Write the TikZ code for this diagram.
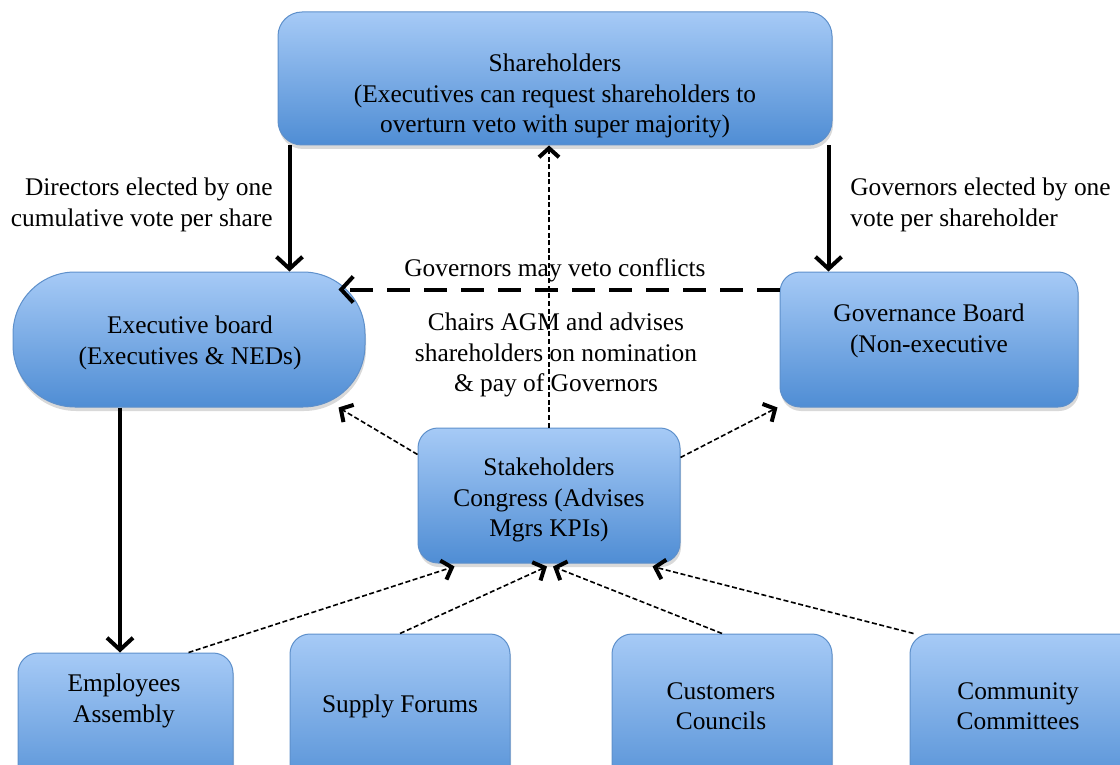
\documentclass[tikz,border=0pt]{standalone}
\usepackage{fontspec}
\setmainfont{Liberation Serif}
\usetikzlibrary{arrows.meta, shadows}
\definecolor{boxtop}{HTML}{A6CAF6}
\definecolor{boxbot}{HTML}{4F8DD4}
\definecolor{boxline}{HTML}{5E90CB}

\tikzset{
  board/.style={draw=boxline, line width=0.5pt, top color=boxtop, bottom color=boxbot,
    rounded corners=10pt, inner sep=0pt,
    drop shadow={opacity=0.3, shadow xshift=0.5pt, shadow yshift=-2pt}},
  boardtext/.style={align=center, font=\fontsize{12.7}{15.2}\selectfont, inner sep=0pt},
  vote/.style={line width=2pt, -{Straight Barb[length=6pt, width=13pt, line width=2pt]}},
  veto/.style={vote, dash pattern=on 11.5pt off 7pt},
  advise/.style={line width=0.8pt, dash pattern=on 2.5pt off 1.3pt,
    -{Straight Barb[length=4.5pt, width=10pt, line width=2pt]}},
}

\begin{document}
\begin{tikzpicture}[x=0.5pt, y=-0.5pt]
	\useasboundingbox (0,0) rectangle (1120,765);
	\clip (0,0) rectangle (1120,765);
	% boards
	\node[board, minimum width=277pt, minimum height=66.5pt, rounded corners=12pt] (share) at (555,78.5) {};
	\node[board, minimum width=176pt, minimum height=67.5pt, rounded corners=31pt] (exec) at (189,339.5) {};
	\node[board, minimum width=149pt, minimum height=67.5pt] (gov) at (929,339.5) {};
	\node[board, minimum width=131pt, minimum height=67.5pt] (stake) at (549,495.5) {};
	% bottom row, cut by the page edge
	\node[board, minimum width=107.5pt, minimum height=75pt] (emp) at (125.5,728) {};
	\node[board, minimum width=110pt, minimum height=83pt] (supply) at (400,717) {};
	\node[board, minimum width=110pt, minimum height=83pt] (cust) at (722,717) {};
	\node[board, minimum width=125pt, minimum height=83pt] (comm) at (1035,717) {};
	% texts in the boards
	\node[boardtext] (share-txt) at (555,96) {Shareholders\\(Executives can request shareholders to\\overturn veto with super majority)};
	\node[boardtext] (exec-txt) at (190,343) {Executive board\\(Executives \& NEDs)};
	\node[boardtext] (gov-txt) at (929,331) {Governance Board\\(Non-executive};
	\node[boardtext] (stake-txt) at (549,500) {Stakeholders\\Congress (Advises\\Mgrs KPIs)};
	\node[boardtext] (emp-txt) at (124,701) {Employees\\Assembly};
	\node[boardtext] (supply-txt) at (400,706) {Supply Forums};
	\node[boardtext] (cust-txt) at (721,706) {Customers\\Councils};
	\node[boardtext] (comm-txt) at (1018,706) {Community\\Committees};
	% labels
	\node[boardtext, align=right, anchor=east] (dir-lbl) at (273,205) {Directors elected by one\\cumulative vote per share};
	\node[boardtext, align=left, anchor=west] (gov-lbl) at (850,205) {Governors elected by one\\vote per shareholder};
	\node[boardtext] (veto-lbl) at (555,270) {Governors may veto conflicts};
	\node[boardtext] (agm-lbl) at (556,355) {Chairs AGM and advises\\shareholders on nomination\\\& pay of Governors};
	% votes
	\draw[vote] ([xshift=6pt]share.south west) -- ([xshift=6pt]share.south west |- exec.north);
	\draw[vote] ([xshift=-2pt]share.south east) -- ([xshift=-2pt]share.south east |- gov.north);
	\draw[veto] ([yshift=-9pt]gov.north west) -- ([xshift=-13.5pt, yshift=-9pt]gov.north west -| exec.east);
	\draw[vote] ([xshift=-34.5pt]exec.south) -- ([xshift=-34.5pt]exec.south |- emp.north);
	% advice
	\draw[advise] (stake.north) -- (stake.north |- share.south);
	\draw[advise] ([yshift=-13.5pt]stake.north west) -- ([xshift=-13.5pt]exec.south east);
	\draw[advise] ([yshift=-15pt]stake.north east) -- ([xshift=-1pt]gov.south west);
	\draw[advise] ([xshift=-22.5pt]emp.north east) -- ([xshift=18.5pt, yshift=-1.5pt]stake.south west);
	\draw[advise] (supply.north) -- ([xshift=-1pt, yshift=-1.5pt]stake.south);
	\draw[advise] (cust.north) -- ([xshift=2pt, yshift=-1.5pt]stake.south);
	\draw[advise] ([xshift=2pt]comm.north west) -- ([xshift=-14pt, yshift=-1.5pt]stake.south east);
\end{tikzpicture}
\end{document}
